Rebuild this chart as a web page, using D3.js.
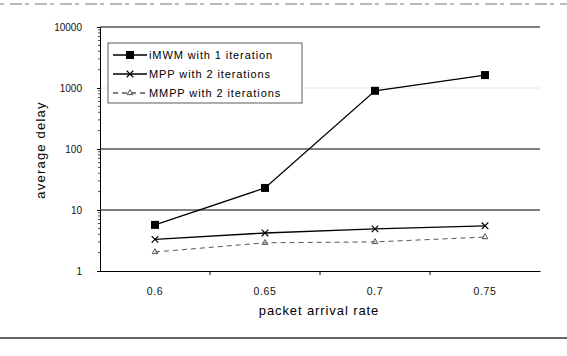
<!DOCTYPE html>
<html>
<head>
<meta charset="utf-8">
<script src="https://cdn.jsdelivr.net/npm/d3@7"></script>
<style>
  body { margin: 0; background: #fff; }
  svg { font-family: Arial, "Liberation Sans", sans-serif; }
</style>
</head>
<body>
<svg width="567" height="356"></svg>
<script>
// chart values
let rates = ['0.6', '0.65', '0.7', '0.75']
let imwm = [5.7, 23, 900, 1630]
let mpp = [3.3, 4.2, 4.9, 5.5]
let mmpp = [2.05, 2.9, 3.0, 3.6]
let yTicks = [1, 10, 100, 1000, 10000]
let seriesNames = ['iMWM with 1 iteration', 'MPP with 2 iterations', 'MMPP with 2 iterations']

drawChart()

function drawChart() {
  let margin = { top: 27, right: 27, bottom: 85, left: 100 }
  let width = 567
  let height = 356

  let x = d3
    .scaleBand()
    .domain(rates)
    .range([margin.left, width - margin.right])

  let y = d3
    .scaleLog()
    .domain([1, 10000])
    .range([height - margin.bottom, margin.top])

  const svg = d3.select('svg')

  // top scan line and bottom rule
  svg.append('line')
    .attr('x1', 0).attr('x2', width).attr('y1', 4).attr('y2', 4)
    .attr('stroke', '#777').attr('stroke-width', 1)
    .attr('stroke-dasharray', '4,6,12,3')
  svg.append('line')
    .attr('x1', 0).attr('x2', width).attr('y1', 338).attr('y2', 338)
    .attr('stroke', '#666').attr('stroke-width', 2)

  // gridlines (the 1000 one is almost lost in the scan)
  svg.append('g')
    .selectAll('line')
    .data(yTicks.slice(1))
    .enter()
    .append('line')
    .attr('x1', margin.left)
    .attr('x2', width - margin.right)
    .attr('y1', d => y(d))
    .attr('y2', d => y(d))
    .attr('stroke', d => (d == 1000 ? '#e4e4e4' : '#000'))
    .attr('stroke-width', 1)

  // y axis
  let yAxis = d3.axisLeft(y)
    .tickValues(yTicks)
    .tickFormat(d3.format('d'))
    .tickSize(3)
  let gy = svg.append('g')
    .attr('transform', `translate(${margin.left},0)`)
    .call(yAxis)
  gy.select('.domain').attr('stroke', '#000')
  gy.selectAll('text').attr('font-size', 10).attr('x', -18).attr('fill', '#111')
  // minor ticks
  let minor = []
  yTicks.slice(0, -1).forEach(t => {
    for (let k = 2; k < 10; k++) minor.push(t * k)
  })
  svg.append('g')
    .selectAll('line')
    .data(minor)
    .enter()
    .append('line')
    .attr('x1', margin.left - 2)
    .attr('x2', margin.left)
    .attr('y1', d => y(d))
    .attr('y2', d => y(d))
    .attr('stroke', '#444')

  // x axis
  let xAxis = d3.axisBottom(x).tickSize(0).tickSizeOuter(0)
  let gx = svg.append('g')
    .attr('transform', `translate(0,${height - margin.bottom})`)
    .call(xAxis)
  gx.select('.domain').attr('stroke', '#000')
  gx.selectAll('text')
    .attr('font-size', 10.5)
    .attr('letter-spacing', 0.6)
    .attr('dy', '2em')
    .attr('fill', '#111')
  // tick marks between categories
  svg.append('g')
    .selectAll('line')
    .data(rates.slice(1))
    .enter()
    .append('line')
    .attr('x1', d => x(d))
    .attr('x2', d => x(d))
    .attr('y1', height - margin.bottom)
    .attr('y2', height - margin.bottom + 4)
    .attr('stroke', '#000')

  // axis titles
  svg.append('text')
    .attr('transform', `translate(45,150) rotate(-90)`)
    .attr('text-anchor', 'middle')
    .attr('font-size', 13)
    .attr('letter-spacing', 1.2)
    .text('average delay')
  svg.append('text')
    .attr('x', 319)
    .attr('y', 315)
    .attr('text-anchor', 'middle')
    .attr('font-size', 13)
    .attr('letter-spacing', 0.9)
    .text('packet arrival rate')

  let cx = d => x(d) + x.bandwidth() / 2
  let line = d3.line()
    .x(d => cx(d.rate))
    .y(d => y(d.v))

  let toPoints = vals => rates.map((r, i) => ({ rate: r, v: vals[i] }))

  // MMPP - dashed grey
  svg.append('path')
    .datum(toPoints(mmpp))
    .attr('d', line)
    .attr('fill', 'none')
    .attr('stroke', '#555')
    .attr('stroke-width', 1)
    .attr('stroke-dasharray', '5,4')
  svg.append('g')
    .selectAll('path')
    .data(toPoints(mmpp))
    .enter()
    .append('path')
    .attr('d', d3.symbol(d3.symbolTriangle, 14))
    .attr('transform', d => `translate(${cx(d.rate)},${y(d.v)})`)
    .attr('fill', 'none')
    .attr('stroke', '#555')

  // MPP - solid with x markers
  svg.append('path')
    .datum(toPoints(mpp))
    .attr('d', line)
    .attr('fill', 'none')
    .attr('stroke', '#000')
    .attr('stroke-width', 1.3)
  svg.append('g')
    .selectAll('path')
    .data(toPoints(mpp))
    .enter()
    .append('path')
    .attr('d', d3.symbol(d3.symbolX, 30))
    .attr('transform', d => `translate(${cx(d.rate)},${y(d.v)})`)
    .attr('fill', 'none')
    .attr('stroke', '#000')
    .attr('stroke-width', 1.2)

  // iMWM - solid with squares
  svg.append('path')
    .datum(toPoints(imwm))
    .attr('d', line)
    .attr('fill', 'none')
    .attr('stroke', '#000')
    .attr('stroke-width', 1.3)
  svg.append('g')
    .selectAll('rect')
    .data(toPoints(imwm))
    .enter()
    .append('rect')
    .attr('x', d => cx(d.rate) - 4)
    .attr('y', d => y(d.v) - 4)
    .attr('width', 8)
    .attr('height', 8)
    .attr('fill', '#000')

  // legend
  let lg = svg.append('g').attr('transform', 'translate(108,43)')
  lg.append('rect')
    .attr('width', 194)
    .attr('height', 60)
    .attr('fill', '#fff')
    .attr('stroke', '#333')
    .attr('stroke-width', 0.8)
  let rows = lg.selectAll('g.row')
    .data(seriesNames)
    .enter()
    .append('g')
    .attr('class', 'row')
    .attr('transform', (d, i) => `translate(0,${12 + i * 19})`)
  rows.append('line')
    .attr('x1', 5).attr('x2', 39)
    .attr('stroke', (d, i) => (i == 2 ? '#555' : '#000'))
    .attr('stroke-width', 1.3)
    .attr('stroke-dasharray', (d, i) => (i == 2 ? '5,4' : null))
  rows.filter((d, i) => i == 0).append('rect')
    .attr('x', 18).attr('y', -4).attr('width', 8).attr('height', 8).attr('fill', '#000')
  rows.filter((d, i) => i == 1).append('path')
    .attr('d', d3.symbol(d3.symbolX, 30))
    .attr('transform', 'translate(22,0)')
    .attr('fill', 'none').attr('stroke', '#000').attr('stroke-width', 1.2)
  rows.filter((d, i) => i == 2).append('path')
    .attr('d', d3.symbol(d3.symbolTriangle, 14))
    .attr('transform', 'translate(22,0)')
    .attr('fill', 'none').attr('stroke', '#555')
  rows.append('text')
    .attr('x', 41)
    .attr('y', 4)
    .attr('font-size', 11)
    .attr('letter-spacing', 0.9)
    .text(d => d)
}
</script>
</body>
</html>
